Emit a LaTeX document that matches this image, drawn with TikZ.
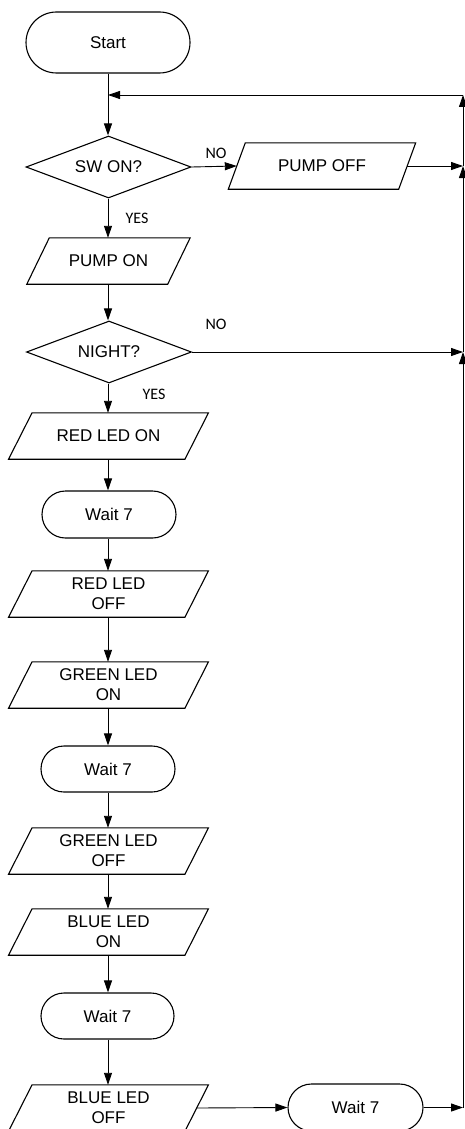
\documentclass[tikz,border=0pt]{standalone}
\usepackage{fontspec}
\setmainfont{Liberation Sans}
\newfontfamily\branchfont{Carlito}
\usetikzlibrary{arrows.meta,shapes.geometric,shapes.misc}

% slanted outline drawn around a plain (invisible) box node
\newcommand\ioframe[2]{%
  \draw[frame] ([xshift=#2/2]#1.north west) -- ([xshift=#2/2]#1.north east)
    -- ([xshift=-#2/2]#1.south east) -- ([xshift=-#2/2]#1.south west) -- cycle;}

\tikzset{
  frame/.style={line width=1.1pt, line join=miter},
  txt/.style={font=\fontsize{17}{20}\selectfont, align=center, inner sep=0pt},
  term/.style={txt, rounded rectangle, draw, line width=1.1pt, minimum width=#1, minimum height=46pt},
  decide/.style={txt, diamond, draw, line width=1.1pt, aspect=2.65, minimum width=165pt, minimum height=62pt},
  iobox/.style={txt, rectangle, minimum width=#1, minimum height=46pt},
  flow/.style={line width=0.9pt, -{Triangle[length=12pt,width=8pt]}},
  plain/.style={line width=0.9pt},
  branch/.style={font=\branchfont\fontsize{16}{18}\selectfont, inner sep=0pt}
}

\begin{document}
\begin{tikzpicture}[x=1pt,y=-1pt]
\useasboundingbox (0,0) rectangle (465,1129);

% main column
\node[term=164pt, minimum height=61pt] (start) at (108,42.5) {Start};
\node[decide] (sw) at (108.5,167) {SW ON?};
\node[iobox=170pt] (poff) at (322,166) {PUMP OFF};
\node[iobox=140.5pt] (pon) at (108.5,261) {PUMP ON};
\node[decide] (night) at (109,352) {NIGHT?};
\node[iobox=176pt] (ron) at (108.5,436) {RED LED ON};
\node[term=134pt, minimum height=47pt] (w1) at (109,514.5) {Wait 7};
\node[iobox=176pt] (roff) at (108.5,594) {RED LED\\OFF};
\node[iobox=176pt] (gon) at (108.5,685) {GREEN LED\\ON};
\node[term=134pt] (w2) at (108,769) {Wait 7};
\node[iobox=176pt] (goff) at (108.5,851) {GREEN LED\\OFF};
\node[iobox=176pt] (bon) at (108.5,932) {BLUE LED\\ON};
\node[term=133pt] (w3) at (107.5,1016) {Wait 7};
\node[iobox=176pt] (boff) at (108.5,1108) {BLUE LED\\OFF};
\node[term=135pt, minimum height=47pt] (w4) at (355.5,1107.5) {Wait 7};

\ioframe{poff}{17pt}
\ioframe{pon}{22.5pt}
\ioframe{ron}{23.5pt}
\ioframe{roff}{23.5pt}
\ioframe{gon}{23.5pt}
\ioframe{goff}{23.5pt}
\ioframe{bon}{23.5pt}
\ioframe{boff}{23.5pt}

% return path on the right
\coordinate (j1) at (463,95);
\coordinate (j2) at (463,166);
\coordinate (j3) at (463,352);
\coordinate (j4) at (463,1107.5);
\coordinate (m) at (108,95);

% connectors
\draw[flow] (start.south -| m) -- (sw.north -| m);
\draw[flow] (j1) -- (m);
\draw[flow] (sw.east) -- (poff.west);
\draw[flow] (poff.east) -- (j2);
\draw[flow] (sw.south -| m) -- (pon.north -| m);
\draw[flow] (pon.south -| m) -- (night.north -| m);
\draw[flow] (night.east) -- (j3);
\draw[flow] (night.south -| m) -- (ron.north -| m);
\draw[flow] (ron.south -| m) -- (w1.north -| m);
\draw[flow] (w1.south -| m) -- (roff.north -| m);
\draw[flow] (roff.south -| m) -- (gon.north -| m);
\draw[flow] (gon.south -| m) -- (w2.north -| m);
\draw[flow] (w2.south -| m) -- (goff.north -| m);
\draw[flow] (goff.south -| m) -- (bon.north -| m);
\draw[flow] (bon.south -| m) -- (w3.north -| m);
\draw[flow] (w3.south -| m) -- (boff.north -| m);
\draw[flow] (boff.east) -- (w4.west);
\draw[flow] (w4.east) -- (j4);
\draw[flow] (j4) -- (j3);
\draw[flow] (j3) -- (j2);
\draw[flow] (j2) -- (j1);

% branch labels
\node[branch] (no1) at (216,153) {NO};
\node[branch] (yes1) at (137,218) {YES};
\node[branch] (no2) at (216,324) {NO};
\node[branch] (yes2) at (154,394) {YES};
\end{tikzpicture}
\end{document}
